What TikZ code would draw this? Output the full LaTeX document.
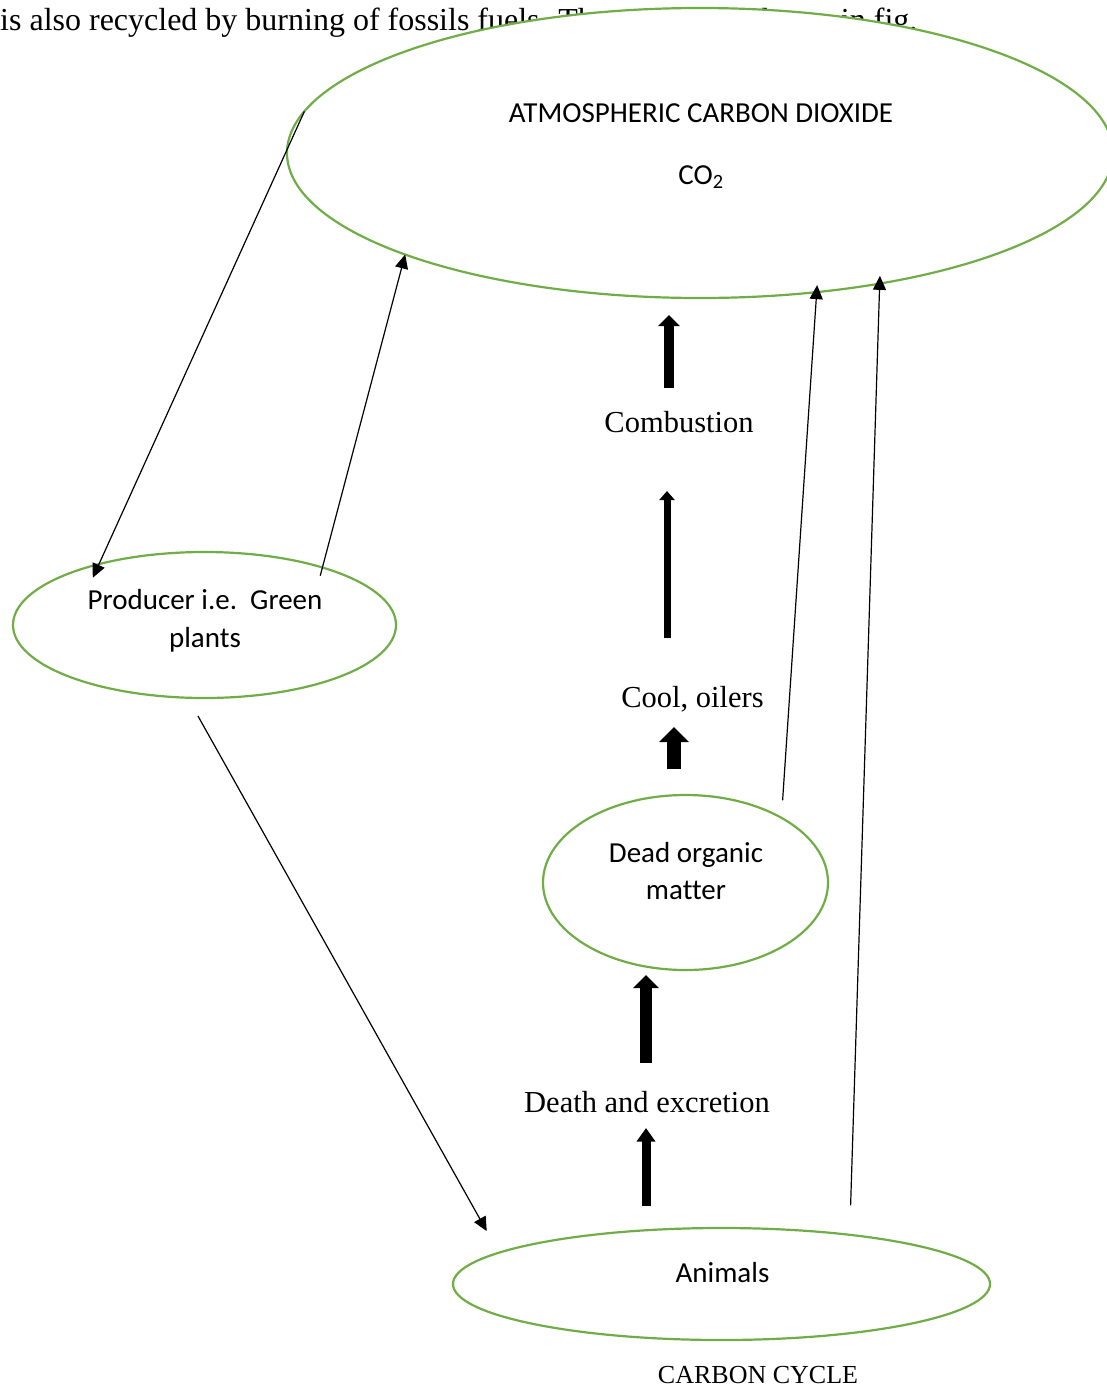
\documentclass[tikz,border=0pt]{standalone}
\usepackage{fontspec}
\setmainfont{Liberation Serif}
\newfontfamily\calib[Ligatures=NoCommon]{Carlito}
\usetikzlibrary{arrows.meta,shapes.geometric}
\definecolor{grn}{HTML}{70AD47}
\tikzset{
  oval/.style={ellipse, draw=grn, line width=2.2pt, fill=white, inner sep=0pt, outer sep=0pt},
  sanslbl/.style={font=\calib\fontsize{29}{38}\selectfont, inner sep=0pt, align=center, anchor=base},
  seriflbl/.style={font=\fontsize{30.5}{36}\selectfont, inner sep=0pt, anchor=base},
  thin/.style={line width=1.2pt, -{Triangle[length=14pt,width=13pt]}},
}
\begin{document}
\begin{tikzpicture}[x=1pt,y=-1pt]
\useasboundingbox (0,0) rectangle (1107,1387);
% top line of running text (partly hidden by the ellipse)
\node[font=\fontsize{32}{36}\selectfont, inner sep=0pt, anchor=base west] (intro) at (0,30)
  {is also recycled by burning of fossils fuels. The process is shown in fig.};
% ellipses
\node[oval, minimum width=826pt, minimum height=290pt] (atm) at (700,153) {};
\node[oval, minimum width=383pt, minimum height=146pt] (prod) at (204.5,625) {};
\node[oval, minimum width=285pt, minimum height=175pt] (dead) at (685.5,882.5) {};
\node[oval, minimum width=537pt, minimum height=112pt] (anim) at (721.5,1284) {};
% ellipse texts
\node[sanslbl] (atmtxt) at (701,122) {ATMOSPHERIC CARBON DIOXIDE};
\node[sanslbl] (co2) at (701,184) {CO\textsubscript{2}};
\node[sanslbl] (prodtxt1) at (205,609) {Producer i.e.\ \ Green};
\node[sanslbl] (prodtxt2) at (205,647) {plants};
\node[sanslbl] (deadtxt1) at (686,862) {Dead organic};
\node[sanslbl] (deadtxt2) at (686,899) {matter};
\node[sanslbl] (animtxt) at (722.5,1282) {Animals};
% serif labels
\node[seriflbl] (comb) at (679,432) {Combustion};
\node[seriflbl] (coal) at (692.5,707) {Cool, oilers};
\node[seriflbl] (death) at (647,1112) {Death and excretion};
\node[font=\fontsize{26}{30}\selectfont, inner sep=0pt, anchor=base] (title) at (758,1383) {CARBON CYCLE};
% thin connectors
\draw[thin, shorten >=-15pt] (atm.174.6) -- (prod.150.3);
\draw[thin, shorten <=-8.5pt] (prod.26.7) -- (atm.199.4);
\draw[thin, shorten <=21pt, shorten >=24.8pt] (prod.-103) -- (anim.172);
\draw[thin, shorten <=17.5pt, shorten >=-7pt] (dead.34.3) -- (atm.-50.6);
\draw[thin, shorten <=29.5pt, shorten >=-7.7pt] (anim.21.5) -- (atm.-36.6);
% block arrows
\coordinate (ba1) at (669,388); \coordinate (bt1) at (669,315);
\coordinate (ba2) at (667,638); \coordinate (bt2) at (667,491);
\coordinate (ba3) at (674,769); \coordinate (bt3) at (674,727);
\coordinate (ba4) at (646,1063); \coordinate (bt4) at (646,975);
\coordinate (ba5) at (646,1206); \coordinate (bt5) at (646,1128);
\draw[line width=10pt, -{Triangle[length=11pt,width=21pt]}] (ba1) -- (bt1);
\draw[line width=7pt, -{Triangle[length=9pt,width=15pt]}] (ba2) -- (bt2);
\draw[line width=14pt, -{Triangle[length=15pt,width=29pt]}] (ba3) -- (bt3);
\draw[line width=12pt, -{Triangle[length=13pt,width=25pt]}] (ba4) -- (bt4);
\draw[line width=9pt, -{Triangle[length=13.5pt,width=18pt]}] (ba5) -- (bt5);
\end{tikzpicture}
\end{document}
